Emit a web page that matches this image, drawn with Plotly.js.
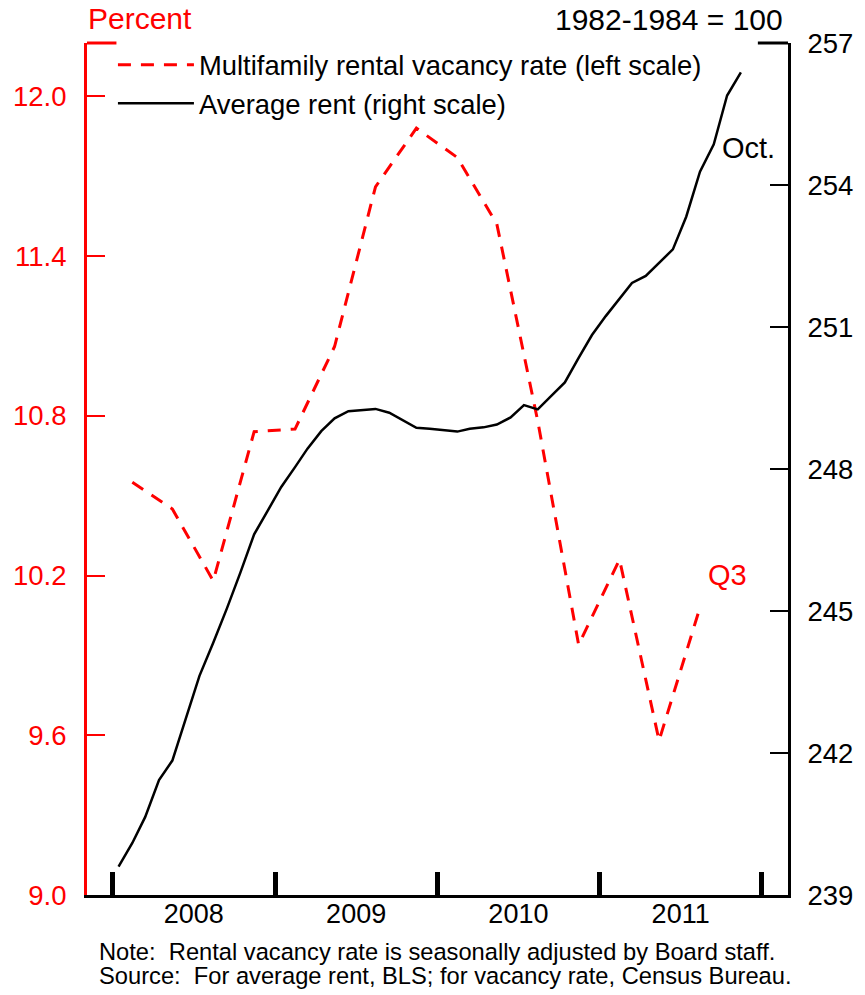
<!DOCTYPE html>
<html>
<head>
<meta charset="utf-8">
<script src="https://cdn.plot.ly/plotly-3.0.1.min.js"></script>
<style>
  html, body { margin: 0; padding: 0; background: #ffffff; }
  #chart { width: 865px; height: 995px; }
</style>
</head>
<body>
<div id="chart"></div>
<script>
// Quarterly multifamily rental vacancy rate (percent), plotted at mid-quarter
var vacancyDates = ['2008-02-15','2008-05-15','2008-08-15','2008-11-15',
                    '2009-02-15','2009-05-15','2009-08-15','2009-11-15',
                    '2010-02-15','2010-05-15','2010-08-15','2010-11-15',
                    '2011-02-15','2011-05-15','2011-08-15'];
var vacancyRate = [10.55, 10.45, 10.18, 10.74,
                   10.75, 11.06, 11.66, 11.88,
                   11.77, 11.52, 10.78, 9.94,
                   10.26, 9.58, 10.08];

// Monthly average rent index (1982-1984 = 100), plotted at mid-month
var rentStart = {year: 2008, month: 1};
var rentIndex = [239.60, 240.10, 240.65, 241.43, 241.84, 242.77, 243.63, 244.33, 245.06, 245.81, 246.62, 247.11,
                 247.62, 248.04, 248.43, 248.80, 249.07, 249.22, 249.25, 249.27, 249.19, 249.03, 248.87, 248.85,
                 248.82, 248.79, 248.85, 248.88, 248.94, 249.09, 249.35, 249.26, 249.55, 249.83, 250.35, 250.83,
                 251.23, 251.60, 251.93, 252.08, 252.35, 252.64, 253.33, 254.28, 254.86, 255.89, 256.38];

var leftTicks = [9.0, 9.6, 10.2, 10.8, 11.4, 12.0];
var leftTickText = ['9.0', '9.6', '10.2', '10.8', '11.4', '12.0'];
var rightTicks = [239, 242, 245, 248, 251, 254, 257];
var yearTicks = ['2008-01-01', '2009-01-01', '2010-01-01', '2011-01-01', '2012-01-01'];

var rentDates = rentIndex.map(function (v, i) {
  var m = rentStart.month - 1 + i;
  var y = rentStart.year + Math.floor(m / 12);
  var mm = (m % 12) + 1;
  return y + '-' + (mm < 10 ? '0' + mm : mm) + '-15';
});

var FONT = 'Liberation Sans, Arial, Helvetica, sans-serif';
var RED = '#ff0000';

var traces = [
  {
    x: vacancyDates, y: vacancyRate, type: 'scatter', mode: 'lines',
    name: 'Multifamily rental vacancy rate (left scale)',
    line: {color: RED, width: 3, dash: '13px,10px'},
    yaxis: 'y', hoverinfo: 'x+y'
  },
  {
    x: rentDates, y: rentIndex, type: 'scatter', mode: 'lines',
    name: 'Average rent (right scale)',
    line: {color: '#000000', width: 2.5},
    yaxis: 'y2', hoverinfo: 'x+y'
  }
];

var layout = {
  width: 865, height: 995,
  margin: {l: 87, r: 77, t: 43, b: 100, pad: 0},
  paper_bgcolor: '#ffffff', plot_bgcolor: '#ffffff',
  font: {family: FONT, size: 27, color: '#000000'},
  showlegend: true,
  legend: {
    x: 0.037, y: 1.003, xanchor: 'left', yanchor: 'top',
    bgcolor: 'rgba(255,255,255,0)', borderwidth: 0,
    font: {family: FONT, size: 27.4},
    itemwidth: 76, tracegroupgap: 0
  },
  xaxis: {
    type: 'date',
    range: ['2007-11-05', '2012-02-29'],
    tickmode: 'array', tickvals: yearTicks,
    showticklabels: false,
    ticks: 'inside', ticklen: 23, tickwidth: 5, tickcolor: '#000000',
    showline: true, linecolor: '#000000', linewidth: 3,
    showgrid: false, zeroline: false, fixedrange: true
  },
  xaxis2: {
    type: 'date', overlaying: 'x', anchor: 'y',
    range: ['2007-11-05', '2012-02-29'],
    tick0: '2008-01-01', dtick: 'M12', ticklabelmode: 'period', tickformat: '%Y',
    ticks: '', showline: false, showgrid: false, zeroline: false,
    tickfont: {family: FONT, size: 27, color: '#000000'},
    fixedrange: true
  },
  yaxis: {
    range: [9.0, 12.2],
    tickmode: 'array', tickvals: leftTicks, ticktext: leftTickText,
    ticks: 'inside', ticklen: 18, tickwidth: 2, tickcolor: RED,
    showline: true, linecolor: RED, linewidth: 3,
    tickfont: {family: FONT, size: 27.5, color: RED},
    ticklabelstandoff: 12,
    showgrid: false, zeroline: false, fixedrange: true
  },
  yaxis2: {
    range: [239, 257], overlaying: 'y', side: 'right',
    tickmode: 'array', tickvals: rightTicks,
    ticks: 'inside', ticklen: 18, tickwidth: 2, tickcolor: '#000000',
    showline: true, linecolor: '#000000', linewidth: 3,
    tickfont: {family: FONT, size: 27.5, color: '#000000'},
    ticklabelstandoff: 11,
    showgrid: false, zeroline: false, fixedrange: true
  },
  shapes: [
    {type: 'line', xref: 'paper', yref: 'paper', x0: 0, x1: 0.042, y0: 1, y1: 1,
     line: {color: RED, width: 3}},
    {type: 'line', xref: 'paper', yref: 'paper', x0: 0.957, x1: 1, y0: 1, y1: 1,
     line: {color: '#000000', width: 3}}
  ],
  annotations: [
    {text: 'Percent', xref: 'paper', yref: 'paper', x: -0.002, y: 1.029,
     xanchor: 'left', yanchor: 'middle', showarrow: false,
     font: {family: FONT, size: 30, color: RED}},
    {text: '1982-1984 = 100', xref: 'paper', yref: 'paper', x: 0.996, y: 1.027,
     xanchor: 'right', yanchor: 'middle', showarrow: false,
     font: {family: FONT, size: 30, color: '#000000'}},
    {text: 'Oct.', xref: 'paper', yref: 'paper', x: 0.944, y: 0.8765,
     xanchor: 'center', yanchor: 'middle', showarrow: false,
     font: {family: FONT, size: 29, color: '#000000'}},
    {text: 'Q3', xref: 'paper', yref: 'paper', x: 0.913, y: 0.376,
     xanchor: 'center', yanchor: 'middle', showarrow: false,
     font: {family: FONT, size: 29, color: RED}},
    {text: 'Note:  Rental vacancy rate is seasonally adjusted by Board staff.',
     xref: 'paper', yref: 'paper', x: 0.014, y: -0.0665,
     xanchor: 'left', yanchor: 'middle', showarrow: false, align: 'left',
     font: {family: FONT, size: 23.7, color: '#000000'}},
    {text: 'Source:  For average rent, BLS; for vacancy rate, Census Bureau.',
     xref: 'paper', yref: 'paper', x: 0.014, y: -0.0955,
     xanchor: 'left', yanchor: 'middle', showarrow: false, align: 'left',
     font: {family: FONT, size: 23.7, color: '#000000'}}
  ]
};

// invisible helper trace that activates xaxis2 for the centred year labels
traces.push({x: ['2008-07-01'], y: [10], xaxis: 'x2', yaxis: 'y', type: 'scatter',
             mode: 'markers', marker: {opacity: 0}, showlegend: false, hoverinfo: 'skip'});

Plotly.newPlot('chart', traces, layout, {displayModeBar: false, staticPlot: true});
</script>
</body>
</html>
